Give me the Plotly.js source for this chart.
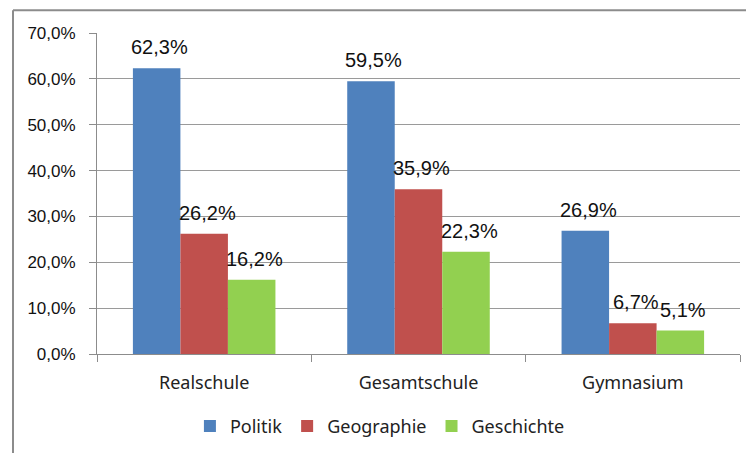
<!DOCTYPE html>
<html>
<head>
<meta charset="utf-8">
<script src="https://cdn.plot.ly/plotly-3.0.1.min.js"></script>
<style>
  html, body { margin: 0; padding: 0; background: #fff; }
  #chart { width: 748px; height: 453px; }
</style>
</head>
<body>
<div id="chart"></div>
<script>
const categories = ["Realschule", "Gesamtschule", "Gymnasium"];
const seriesNames = ["Politik", "Geographie", "Geschichte"];
const politik = [62.3, 59.5, 26.9];
const geographie = [26.2, 35.9, 6.7];
const geschichte = [16.2, 22.3, 5.1];
const yTickVals = [0, 10, 20, 30, 40, 50, 60, 70];
const yTickText = ["0,0%", "10,0%", "20,0%", "30,0%", "40,0%", "50,0%", "60,0%", "70,0%"];
const colors = ["#4F81BD", "#C0504D", "#92D050"];

const seriesValues = [politik, geographie, geschichte];

const margin = {l: 97, r: 8, t: 33, b: 96};
const W = 748, H = 453;
const plotW = W - margin.l - margin.r;
const plotH = H - margin.t - margin.b;
const bargap = 0.335;
const barPx = plotW / categories.length * (1 - bargap) / seriesNames.length;

const fmt = v => v.toFixed(1).replace('.', ',') + '%';

const traces = seriesValues.map((vals, i) => ({
  type: 'bar',
  name: seriesNames[i],
  x: categories,
  y: vals,
  marker: {color: colors[i], line: {width: 0}},
  hoverinfo: 'none'
}));

const annotations = [];
seriesValues.forEach((vals, i) => {
  vals.forEach((v, j) => {
    annotations.push({
      x: categories[j], y: v, xref: 'x', yref: 'y',
      text: fmt(v), showarrow: false,
      xanchor: 'center', yanchor: 'bottom',
      xshift: (i - 1) * barPx + 3, yshift: 8,
      font: {family: 'Liberation Sans, Arial, sans-serif', size: 20, color: '#111'}
    });
  });
});

// outer frame (left and top border of the chart area)
const fx = (13 - margin.l) / plotW;
const fyTop = (H - margin.b - 10) / plotH;
const fyBot = (H - margin.b - H - 5) / plotH;
const fxR = (746 - margin.l) / plotW;

const layout = {
  width: W, height: H,
  margin: margin,
  paper_bgcolor: '#fff', plot_bgcolor: '#fff',
  barmode: 'group',
  bargap: bargap, bargroupgap: 0,
  showlegend: true,
  legend: {
    orientation: 'h', x: 0.44, xanchor: 'center', y: -0.225, yanchor: 'middle',
    font: {family: 'Noto Sans, sans-serif', size: 18, color: '#222'},
    traceorder: 'normal'
  },
  xaxis: {
    type: 'category',
    showline: true, linecolor: '#8c8c8c', linewidth: 1,
    ticks: 'outside', ticklen: 7, tickcolor: '#8c8c8c', tickson: 'boundaries',
    ticklabelstandoff: 12,
    tickfont: {family: 'Noto Sans, sans-serif', size: 18, color: '#222'},
    showgrid: false, fixedrange: true
  },
  yaxis: {
    range: [0, 70],
    tickvals: yTickVals,
    ticktext: yTickText,
    showline: true, linecolor: '#8c8c8c', linewidth: 1,
    ticks: 'outside', ticklen: 7, tickcolor: '#8c8c8c',
    ticklabelstandoff: 10,
    showgrid: true, gridcolor: '#9a9a9a', gridwidth: 1,
    zeroline: false,
    tickfont: {family: 'Liberation Sans, Arial, sans-serif', size: 17, color: '#111'},
    fixedrange: true
  },
  annotations: annotations,
  shapes: [
    {type: 'line', xref: 'paper', yref: 'paper', x0: fx, x1: fx, y0: fyBot, y1: fyTop,
     line: {color: '#8c8c8c', width: 2}},
    {type: 'line', xref: 'paper', yref: 'paper', x0: fx, x1: fxR, y0: fyTop, y1: fyTop,
     line: {color: '#8c8c8c', width: 2}}
  ]
};

Plotly.newPlot('chart', traces, layout, {displayModeBar: false, staticPlot: true});
</script>
</body>
</html>
